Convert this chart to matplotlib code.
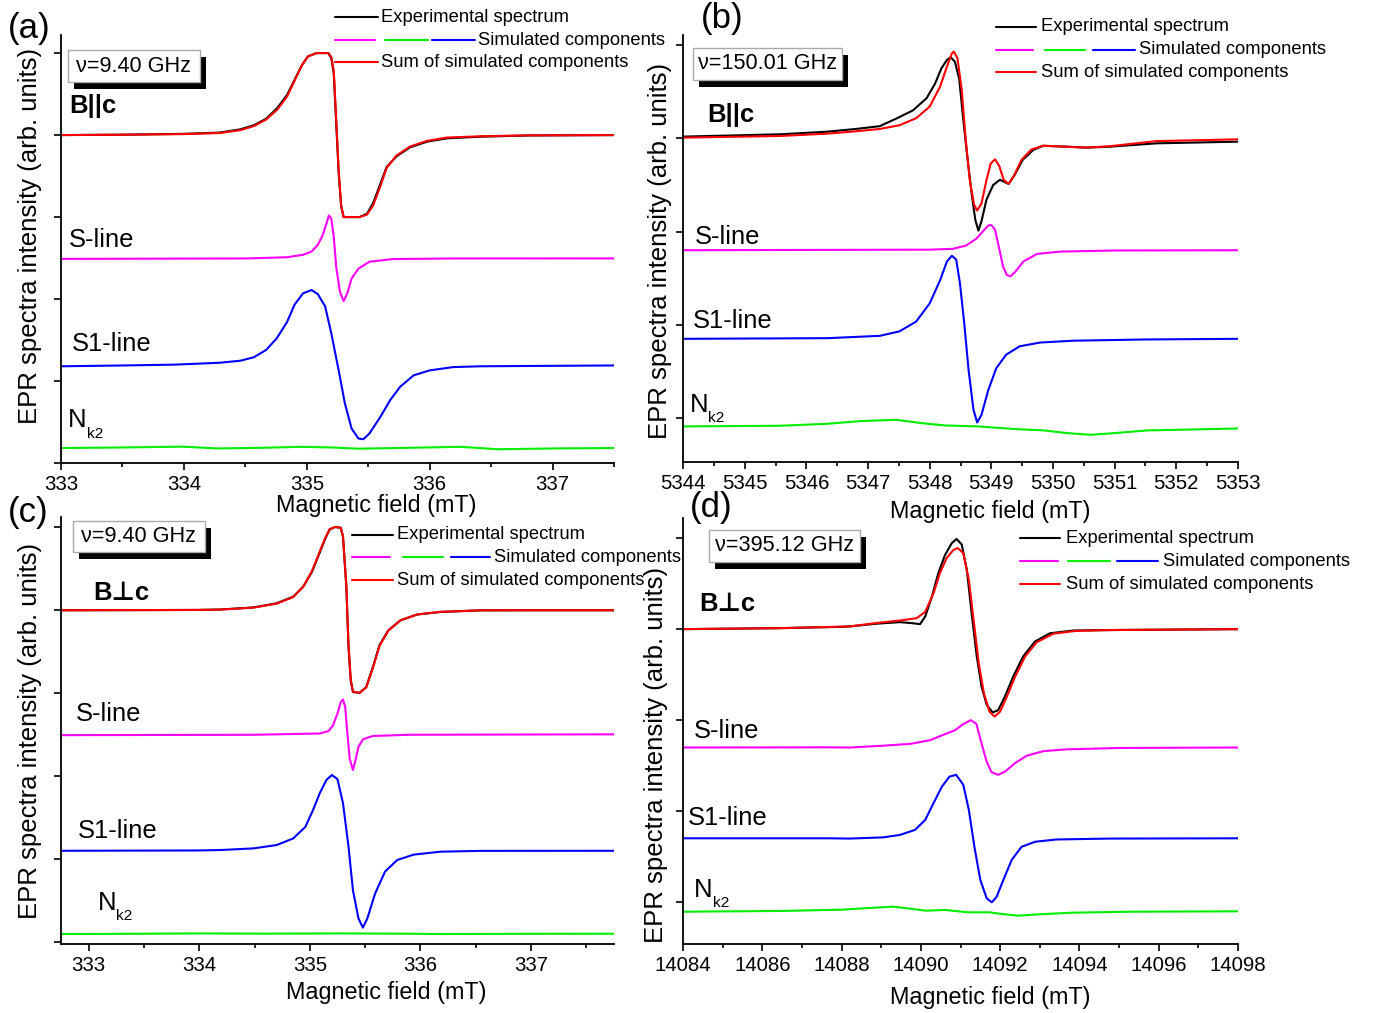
import numpy as np
import matplotlib
matplotlib.use("Agg")
import matplotlib.pyplot as plt
from matplotlib import font_manager
from matplotlib.patches import Rectangle
from matplotlib.ticker import MultipleLocator, FormatStrFormatter

plt.rcParams['font.family'] = ['Liberation Sans', 'DejaVu Sans']
plt.rcParams['lines.solid_joinstyle'] = 'round'
plt.rcParams['lines.solid_capstyle'] = 'round'

# ---------------- panel (a): 9.40 GHz, B||c ----------------
a_x_exp = [333.0, 333.5, 334.0, 334.29, 334.46, 334.57, 334.67, 334.76, 334.84, 334.90, 334.96, 335.01, 335.08,
           335.175, 335.20, 335.22, 335.24, 335.26, 335.28, 335.30, 335.43, 335.49, 335.54, 335.60, 335.65, 335.73,
           335.84, 335.98, 336.14, 336.41, 336.8, 337.5]
a_exp = [4.0, 4.005, 4.015, 4.03, 4.07, 4.12, 4.20, 4.33, 4.49, 4.67, 4.85, 4.96, 5.0, 5.0, 4.94, 4.75, 4.14, 3.53,
         3.13, 3.0, 3.0, 3.04, 3.17, 3.41, 3.61, 3.74, 3.85, 3.92, 3.96, 3.98, 3.995, 4.0]
a_sum = [4.0, 4.004, 4.012, 4.025, 4.06, 4.11, 4.19, 4.31, 4.47, 4.66, 4.85, 4.96, 5.0, 5.0, 4.95, 4.78, 4.18, 3.56,
         3.15, 3.0, 3.0, 3.03, 3.14, 3.38, 3.60, 3.75, 3.86, 3.93, 3.97, 3.985, 3.997, 4.0]
a_x_s = [333.0, 334.5, 334.84, 334.97, 335.04, 335.09, 335.13, 335.16, 335.18, 335.20, 335.22, 335.24, 335.27,
         335.30, 335.33, 335.365, 335.42, 335.51, 335.70, 336.2, 337.5]
a_s = [2.49, 2.495, 2.51, 2.54, 2.58, 2.66, 2.78, 2.92, 3.02, 2.98, 2.76, 2.39, 2.09, 1.975, 2.07, 2.25, 2.37, 2.455,
       2.488, 2.495, 2.496]
a_x_s1 = [333.0, 333.5, 333.92, 334.29, 334.46, 334.57, 334.67, 334.755, 334.84, 334.90, 334.97, 335.04, 335.09,
          335.15, 335.20, 335.26, 335.31, 335.365, 335.42, 335.46, 335.51, 335.60, 335.68, 335.76, 335.87, 336.00,
          336.19, 336.41, 336.9, 337.5]
a_s1 = [1.18, 1.19, 1.20, 1.223, 1.248, 1.29, 1.38, 1.52, 1.72, 1.93, 2.07, 2.11, 2.06, 1.91, 1.58, 1.13, 0.73, 0.42,
        0.30, 0.29, 0.36, 0.565, 0.77, 0.93, 1.07, 1.13, 1.17, 1.18, 1.185, 1.19]
a_x_n = [333.0, 333.5, 333.99, 334.27, 334.6, 334.96, 335.2, 335.42, 335.8, 336.25, 336.56, 337.0, 337.5]
a_n = [0.183, 0.19, 0.20, 0.178, 0.185, 0.198, 0.19, 0.175, 0.185, 0.198, 0.168, 0.178, 0.183]

# ---------------- panel (b): 150.01 GHz, B||c ----------------
b_x_exp = [5344.0, 5345.58, 5346.34, 5346.80, 5347.19, 5347.47, 5347.73, 5347.95, 5348.09, 5348.19, 5348.28,
           5348.34, 5348.41, 5348.48, 5348.54, 5348.61, 5348.68, 5348.74, 5348.79, 5348.84, 5348.92, 5349.03,
           5349.14, 5349.28, 5349.38, 5349.51, 5349.68, 5349.84, 5350.22, 5350.54, 5350.92, 5351.68, 5353.0]
b_exp = [3.018, 3.043, 3.071, 3.10, 3.13, 3.215, 3.30, 3.43, 3.59, 3.75, 3.84, 3.87, 3.82, 3.63, 3.23, 2.80, 2.41,
         2.125, 2.01, 2.11, 2.34, 2.50, 2.555, 2.51, 2.61, 2.77, 2.875, 2.92, 2.91, 2.90, 2.91, 2.946, 2.964]
b_x_sum = [5344.0, 5345.58, 5346.34, 5346.80, 5347.19, 5347.51, 5347.78, 5348.0, 5348.17, 5348.28, 5348.36,
           5348.39, 5348.45, 5348.52, 5348.58, 5348.65, 5348.72, 5348.77, 5348.84, 5348.92, 5348.99, 5349.06,
           5349.13, 5349.20, 5349.28, 5349.36, 5349.49, 5349.65, 5349.84, 5350.22, 5350.54, 5350.92, 5351.68, 5353.0]
b_sum = [3.007, 3.025, 3.05, 3.075, 3.10, 3.14, 3.215, 3.34, 3.555, 3.77, 3.91, 3.93, 3.86, 3.52, 3.02, 2.55, 2.29,
         2.225, 2.30, 2.55, 2.73, 2.775, 2.70, 2.555, 2.51, 2.59, 2.77, 2.88, 2.92, 2.91, 2.90, 2.915, 2.97, 2.989]
b_x_s = [5344.0, 5348.0, 5348.38, 5348.59, 5348.75, 5348.86, 5348.95, 5349.0, 5349.06, 5349.12, 5349.19, 5349.25,
         5349.31, 5349.39, 5349.52, 5349.74, 5350.11, 5351.0, 5353.0]
b_s = [1.80, 1.806, 1.815, 1.85, 1.92, 2.0, 2.065, 2.07, 2.02, 1.84, 1.625, 1.535, 1.52, 1.57, 1.68, 1.76, 1.785,
       1.797, 1.80]
b_x_s1 = [5344.0, 5346.34, 5347.19, 5347.51, 5347.78, 5348.0, 5348.17, 5348.28, 5348.36, 5348.43, 5348.49, 5348.56,
          5348.63, 5348.71, 5348.77, 5348.84, 5348.95, 5349.08, 5349.24, 5349.46, 5349.79, 5350.33, 5351.5, 5353.0]
b_s1 = [0.85, 0.857, 0.882, 0.93, 1.035, 1.23, 1.48, 1.68, 1.74, 1.70, 1.45, 1.02, 0.52, 0.09, -0.047, 0.035, 0.30,
        0.535, 0.68, 0.77, 0.81, 0.83, 0.843, 0.85]
b_x_n = [5344.0, 5345.58, 5346.34, 5346.88, 5347.45, 5347.87, 5348.25, 5348.78, 5349.39, 5349.85, 5350.23,
         5350.61, 5350.99, 5351.53, 5352.06, 5353.0]
b_n = [-0.089, -0.082, -0.061, -0.032, -0.018, -0.054, -0.079, -0.089, -0.118, -0.132, -0.161, -0.179, -0.161,
       -0.132, -0.125, -0.111]

# ---------------- panel (c): 9.40 GHz, B perp c ----------------
c_x_exp = [332.75, 333.5, 333.99, 334.19, 334.49, 334.70, 334.85, 334.94, 335.02, 335.08, 335.14, 335.18, 335.23,
           335.28, 335.30, 335.33, 335.35, 335.37, 335.39, 335.45, 335.51, 335.57, 335.63, 335.71, 335.82, 335.97,
           336.18, 336.54, 337.0, 337.75]
c_exp = [3.996, 3.998, 4.0, 4.005, 4.03, 4.08, 4.16, 4.28, 4.46, 4.66, 4.86, 4.97, 5.0, 4.99, 4.88, 4.28, 3.55, 3.15,
         3.01, 3.0, 3.07, 3.31, 3.575, 3.755, 3.875, 3.945, 3.975, 3.995, 3.996, 3.996]
c_sum = [3.996, 3.998, 4.0, 4.004, 4.028, 4.075, 4.155, 4.28, 4.47, 4.67, 4.87, 4.975, 5.0, 4.99, 4.89, 4.30, 3.57,
         3.16, 3.015, 3.0, 3.065, 3.30, 3.565, 3.75, 3.875, 3.945, 3.977, 3.995, 3.996, 3.996]
c_x_s = [332.75, 334.5, 335.09, 335.17, 335.21, 335.25, 335.28, 335.30, 335.32, 335.34, 335.36, 335.39, 335.41,
         335.44, 335.48, 335.57, 335.9, 337.75]
c_s = [2.49, 2.495, 2.51, 2.54, 2.61, 2.75, 2.89, 2.92, 2.83, 2.51, 2.21, 2.07, 2.17, 2.35, 2.44, 2.48, 2.495, 2.50]
c_x_s1 = [332.75, 333.99, 334.19, 334.49, 334.70, 334.85, 334.96, 335.03, 335.09, 335.15, 335.20, 335.25, 335.30,
          335.35, 335.39, 335.44, 335.48, 335.52, 335.59, 335.68, 335.79, 335.94, 336.18, 336.54, 337.75]
c_s1 = [1.096, 1.10, 1.105, 1.125, 1.165, 1.245, 1.385, 1.59, 1.79, 1.95, 2.01, 1.96, 1.67, 1.145, 0.62, 0.28, 0.17,
        0.28, 0.58, 0.845, 0.985, 1.05, 1.085, 1.095, 1.096]
c_x_n = [332.75, 333.5, 333.99, 334.6, 335.3, 335.9, 336.2, 336.9, 337.75]
c_n = [0.092, 0.096, 0.10, 0.097, 0.10, 0.096, 0.092, 0.095, 0.096]

# ---------------- panel (d): 395.12 GHz, B perp c ----------------
d_x_exp = [14084.0, 14086.46, 14088.0, 14088.21, 14088.89, 14089.47, 14089.77, 14089.98, 14090.11, 14090.28,
           14090.44, 14090.61, 14090.78, 14090.90, 14091.03, 14091.16, 14091.28, 14091.41, 14091.53, 14091.66,
           14091.81, 14091.95, 14092.12, 14092.33, 14092.58, 14092.88, 14093.26, 14093.85, 14094.77, 14098.0]
d_exp = [3.0, 3.011, 3.025, 3.03, 3.06, 3.077, 3.066, 3.055, 3.14, 3.36, 3.615, 3.815, 3.945, 3.99, 3.93, 3.65,
         3.175, 2.70, 2.37, 2.17, 2.085, 2.11, 2.26, 2.48, 2.70, 2.865, 2.955, 2.985, 2.99, 3.0]
d_x_sum = [14084.0, 14086.46, 14088.21, 14088.89, 14089.47, 14089.89, 14090.11, 14090.32, 14090.48, 14090.65,
           14090.82, 14090.93, 14091.07, 14091.21, 14091.34, 14091.46, 14091.59, 14091.73, 14091.86, 14092.0,
           14092.17, 14092.38, 14092.63, 14092.92, 14093.34, 14093.9, 14094.77, 14098.0]
d_sum = [3.0, 3.011, 3.03, 3.068, 3.095, 3.12, 3.19, 3.395, 3.615, 3.78, 3.87, 3.89, 3.835, 3.54, 3.065, 2.625,
         2.295, 2.095, 2.04, 2.095, 2.26, 2.48, 2.70, 2.855, 2.95, 2.98, 2.99, 3.0]
d_x_s = [14084.0, 14087.64, 14088.21, 14089.05, 14089.73, 14090.23, 14090.57, 14090.86, 14091.08, 14091.26,
         14091.40, 14091.53, 14091.66, 14091.78, 14091.95, 14092.12, 14092.38, 14092.67, 14093.09, 14093.68,
         14095.0, 14098.0]
d_s = [1.70, 1.702, 1.70, 1.72, 1.74, 1.78, 1.84, 1.89, 1.96, 2.0, 1.96, 1.745, 1.545, 1.43, 1.40, 1.435, 1.53,
       1.61, 1.66, 1.68, 1.695, 1.70]
d_x_s1 = [14084.0, 14087.64, 14088.21, 14089.05, 14089.47, 14089.85, 14090.11, 14090.32, 14090.53, 14090.72,
          14090.89, 14091.07, 14091.21, 14091.35, 14091.50, 14091.66, 14091.79, 14091.91, 14092.08, 14092.29,
          14092.54, 14092.88, 14093.42, 14094.76, 14098.0]
d_s1 = [0.703, 0.703, 0.70, 0.713, 0.74, 0.795, 0.905, 1.09, 1.27, 1.38, 1.40, 1.29, 1.015, 0.61, 0.245, 0.044,
        0.0, 0.06, 0.245, 0.465, 0.61, 0.665, 0.69, 0.70, 0.703]
d_x_n = [14084.0, 14086.46, 14088.0, 14088.83, 14089.30, 14089.66, 14090.13, 14090.61, 14091.20, 14091.73,
         14092.03, 14092.45, 14092.98, 14093.81, 14095.35, 14098.0]
d_n = [-0.103, -0.095, -0.081, -0.059, -0.048, -0.066, -0.092, -0.084, -0.110, -0.110, -0.128, -0.147, -0.132,
       -0.114, -0.103, -0.099]

MAGENTA = '#ff00ff'
GREEN = '#00ee00'
BLUE = '#0000ff'
LW = 1.5

# the source figure uses condensed lettering; take the narrow face if it is installed
names = {f.name for f in font_manager.fontManager.ttflist}
if 'Liberation Sans Narrow' in names:
    TXT = ['Liberation Sans Narrow', 'DejaVu Sans']
    k = 1.0
else:
    TXT = ['Liberation Sans', 'DejaVu Sans']
    k = 0.84
FS_TICK, FS_LEG, FS_XLAB, FS_LAB, FS_BOX = 17.5 * k, 15.8 * k, 20 * k, 22 * k, 18.5 * k


def draw_legend(ax, ys, xl, xt, comp):
    # hand-made legend, positions in axes fraction
    kw = dict(transform=ax.transAxes, clip_on=False, lw=LW)
    tk = dict(transform=ax.transAxes, va='center', fontsize=FS_LEG, family=TXT)
    ax.plot(xl, [ys[0], ys[0]], color='black', **kw)
    ax.text(xt[0], ys[0], 'Experimental spectrum', **tk)
    for (x0, x1), col in zip(comp, [MAGENTA, GREEN, BLUE]):
        ax.plot([x0, x1], [ys[1], ys[1]], color=col, **kw)
    ax.text(xt[1], ys[1], 'Simulated components', **tk)
    ax.plot(xl, [ys[2], ys[2]], color='red', **kw)
    ax.text(xt[0], ys[2], 'Sum of simulated components', **tk)


def freq_box(ax, x0, y0, x1, y1, text):
    w, h = x1 - x0, y1 - y0
    ax.add_patch(Rectangle((x0 + 0.011, y0 - 0.016), w, h, transform=ax.transAxes, fc='black', ec='none',
                           clip_on=False, zorder=5))
    ax.add_patch(Rectangle((x0, y0), w, h, transform=ax.transAxes, fc='white', ec='#aaaaaa', lw=1,
                           clip_on=False, zorder=6))
    ax.text(x0 + w / 2, y0 + h / 2, text, transform=ax.transAxes, ha='center', va='center', fontsize=FS_BOX,
            family=TXT, zorder=7)


def panel(pos, xlim, ylim, xmaj, xmin, yticks, curves, labels, legend, box, xlab, ylab):
    ax = fig.add_axes(pos)
    ax.patch.set_visible(False)
    (xe, ye), (xs, ys), (xs_, s), (xs1, s1), (xn, n) = curves
    ax.plot(xn, n, color=GREEN, lw=LW)
    ax.plot(xs1, s1, color=BLUE, lw=LW)
    ax.plot(xs_, s, color=MAGENTA, lw=LW)
    ax.plot(xe, ye, color='black', lw=LW)
    ax.plot(xs, ys, color='red', lw=LW)
    ax.set_xlim(xlim)
    ax.set_ylim(ylim)
    ax.xaxis.set_major_locator(MultipleLocator(xmaj))
    ax.xaxis.set_minor_locator(MultipleLocator(xmin))
    ax.xaxis.set_major_formatter(FormatStrFormatter('%d'))
    ax.set_yticks(yticks)
    ax.tick_params(axis='y', labelleft=False)
    ax.tick_params(which='major', direction='out', length=5, width=1.2, labelsize=FS_TICK)
    ax.tick_params(which='minor', direction='out', length=3, width=1.2)
    for t in ax.get_xticklabels():
        t.set_family(TXT)
    for sp in ['top', 'right']:
        ax.spines[sp].set_visible(False)
    for sp in ['left', 'bottom']:
        ax.spines[sp].set_linewidth(1.3)
    ax.set_xlabel('Magnetic field (mT)', fontsize=FS_XLAB, family=TXT)
    ax.xaxis.set_label_coords(*xlab)
    ax.set_ylabel('EPR spectra intensity (arb. units)', fontsize=18.5)
    ax.yaxis.set_label_coords(*ylab)
    (bx, by, btxt), (sx, sy), (s1x, s1y), (nx, ny) = labels
    ax.text(bx, by, btxt, fontsize=FS_LAB, fontweight='bold', va='center', family=TXT)
    ax.text(sx, sy, 'S-line', fontsize=FS_LAB, va='center', family=TXT)
    ax.text(s1x, s1y, 'S1-line', fontsize=FS_LAB, va='center', family=TXT)
    t = ax.text(nx, ny, 'N', fontsize=FS_LAB, va='center', family=TXT)
    ax.annotate('k2', xy=(1, 0), xycoords=t, xytext=(0, -1), textcoords='offset points', fontsize=FS_LAB * 0.6,
                va='center', family=TXT)
    draw_legend(ax, *legend)
    freq_box(ax, *box)
    return ax


fig = plt.figure(figsize=(13.76, 10.13), dpi=100)

panel([0.0443, 0.5429, 0.4019, 0.4225], (333, 337.5), (0, 5.22), 1, 0.5, range(6),
      [(a_x_exp, a_exp), (a_x_exp, a_sum), (a_x_s, a_s), (a_x_s1, a_s1), (a_x_n, a_n)],
      [(333.07, 4.35, 'B||c'), (333.06, 2.72), (333.09, 1.45), (333.06, 0.52)],
      ([1.042, 0.988, 0.937], [0.495, 0.573], [0.579, 0.754],
       [(0.495, 0.568), (0.586, 0.664), (0.671, 0.749)]),
      (0.0127, 0.890, 0.251, 0.965, '\u03bd=9.40 GHz'),
      (0.57, -0.072), (-0.034, 0.53))

panel([0.4964, 0.5439, 0.4033, 0.4215], (5344, 5353), (-0.471, 4.107), 1, 0.5, range(5),
      [(b_x_exp, b_exp), (b_x_sum, b_sum), (b_x_s, b_s), (b_x_s1, b_s1), (b_x_n, b_n)],
      [(5344.39, 3.25, 'B||c'), (5344.19, 1.94), (5344.16, 1.04), (5344.11, 0.14)],
      ([1.019, 0.965, 0.913], [0.564, 0.636], [0.645, 0.822],
       [(0.564, 0.631), (0.652, 0.724), (0.739, 0.814)]),
      (0.018, 0.895, 0.286, 0.970, '\u03bd=150.01 GHz'),
      (0.553, -0.089), (-0.020, 0.494))

panel([0.0443, 0.0681, 0.4019, 0.4215], (332.75, 337.75), (-0.028, 5.12), 1, 0.5, range(6),
      [(c_x_exp, c_exp), (c_x_exp, c_sum), (c_x_s, c_s), (c_x_s1, c_s1), (c_x_n, c_n)],
      [(333.04, 4.21, 'B\u22a5c'), (332.88, 2.75), (332.90, 1.33), (333.08, 0.47)],
      ([0.958, 0.906, 0.852], [0.526, 0.600], [0.607, 0.783],
       [(0.526, 0.595), (0.619, 0.691), (0.705, 0.776)]),
      (0.0217, 0.918, 0.260, 0.991, '\u03bd=9.40 GHz'),
      (0.588, -0.087), (-0.034, 0.50))

panel([0.4964, 0.0681, 0.4033, 0.4205], (14084, 14098), (-0.458, 4.22), 2, 1, range(5),
      [(d_x_exp, d_exp), (d_x_sum, d_sum), (d_x_s, d_s), (d_x_s1, d_s1), (d_x_n, d_n)],
      [(14084.4, 3.28, 'B\u22a5c'), (14084.28, 1.88), (14084.13, 0.93), (14084.28, 0.14)],
      ([0.953, 0.899, 0.845], [0.607, 0.679], [0.690, 0.865],
       [(0.607, 0.676), (0.694, 0.769), (0.782, 0.856)]),
      (0.047, 0.897, 0.319, 0.972, '\u03bd=395.12 GHz'),
      (0.553, -0.099), (-0.027, 0.444))

for lab, x, y in [('(a)', 0.0058, 0.972), ('(b)', 0.509, 0.982), ('(c)', 0.0058, 0.494), ('(d)', 0.501, 0.499)]:
    fig.text(x, y, lab, fontsize=25, va='center')

fig.savefig('out.png', dpi=100)
